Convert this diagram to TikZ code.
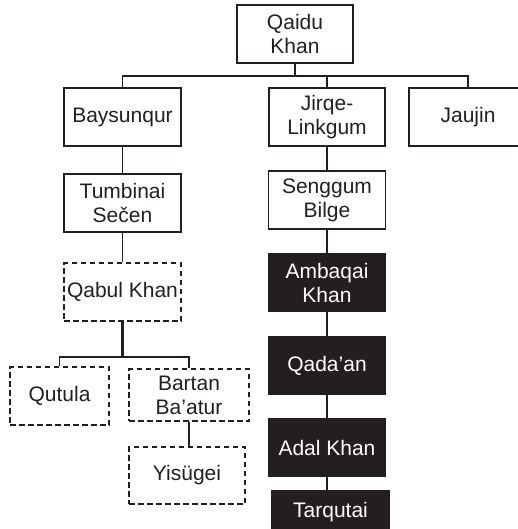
\documentclass[tikz,border=0pt]{standalone}
\usepackage{fontspec}
\setmainfont{Liberation Sans}
\definecolor{ink}{HTML}{231F20}
\begin{document}
\begin{tikzpicture}[x=1pt,y=-1pt,
  person/.style={draw=ink,line width=1.1pt,rectangle,minimum width=117pt,minimum height=58pt,
    inner sep=0pt,align=center,text=ink,font=\fontsize{21}{24}\selectfont},
  unsure/.style={person,dash pattern=on 5.5pt off 3.5pt},
  khan/.style={person,fill=ink,text=white},
  link/.style={draw=ink,line width=1.6pt}]
\useasboundingbox (0,0) rectangle (518,529);
\clip (0,0) rectangle (518,529);
\node[person,minimum width=116pt] (qai) at (295,34) {Qaidu\\Khan};
\node[person] (bay) at (122.5,117) {Baysunqur};
\node[person,minimum width=116pt] (jir) at (327,117) {Jirqe-\\Linkgum};
\node[person,minimum width=118pt] (jau) at (468,117) {Jaujin};
\node[person] (tum) at (122.5,203) {Tumbinai\\Sečen};
\node[unsure] (qab) at (122.5,292) {Qabul Khan};
\node[unsure,minimum width=99pt] (qut) at (59.5,396) {Qutula};
\node[unsure,minimum width=120pt,minimum height=52pt] (bar) at (189,395) {Bartan\\Ba’atur};
\node[unsure,minimum width=116pt,minimum height=57pt] (yis) at (187,475.5) {Yisügei};
\node[person] (sen) at (327,200) {Senggum\\Bilge};
\node[khan] (amb) at (327,282.5) {Ambaqai\\Khan};
\node[khan] (qad) at (327,365.5) {Qada’an};
\node[khan] (ada) at (327,447.5) {Adal Khan};
\node[khan,minimum height=42pt] (tar) at (330.5,512) {Tarqutai};
\coordinate (bus) at (295,76);
\coordinate (bus2) at (122.5,357);
\draw[link,line width=2.4pt] (qai.south) -- (qai.south |- bus);
\draw[link] (bay.north) -- (bay.north |- bus) -- (jau.north |- bus) -- (jau.north);
\draw[link] (jir.north) -- (jir.north |- bus);
\draw[link] (bay) -- (tum);
\draw[link] (tum) -- (qab);
\draw[link,line width=2.2pt] (qab.south) -- (bus2);
\draw[link] (qut.north) -- (qut.north |- bus2) -- (bar.north |- bus2) -- (bar.north);
\draw[link] (bar.south) -- (bar.south |- yis.north);
\draw[link] (jir) -- (sen);
\draw[link] (sen) -- (amb);
\draw[link] (amb) -- (qad);
\draw[link] (qad) -- (ada);
\draw[link] (ada.south) -- (ada.south |- tar.north);
\end{tikzpicture}
\end{document}
